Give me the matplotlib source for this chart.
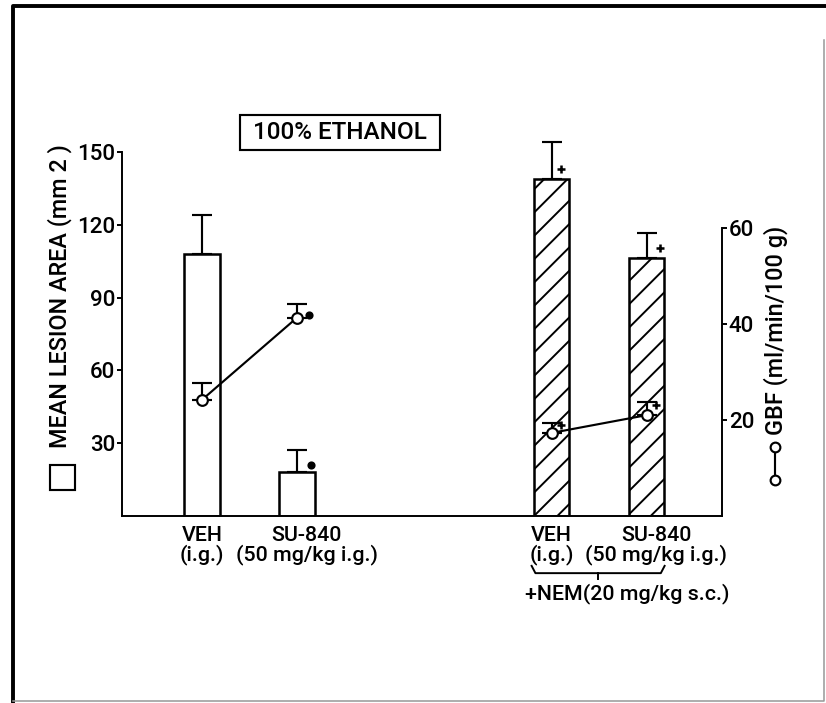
import matplotlib
matplotlib.use("Agg")
import matplotlib.pyplot as plt
import numpy as np
from matplotlib.lines import Line2D
from matplotlib.patches import Rectangle
from matplotlib.transforms import offset_copy, ScaledTranslation

plt.rcParams['font.family'] = ['Roboto', 'DejaVu Sans']
plt.rcParams['font.weight'] = 'medium'
plt.rcParams['hatch.linewidth'] = 1.0

# data
labels = ["VEH\n(i.g.)", "SU-840\n(50 mg/kg i.g.)", "VEH\n(i.g.)", "SU-840\n(50 mg/kg i.g.)"]
lesion = [108, 18, 139, 106.5]
lesion_sem = [16, 9, 15, 10]
gbf = [24.2, 41.3, 17.3, 21.0]
gbf_sem = [3.5, 2.9, 2.1, 2.7]
lesion_sig = ['', '*', '+', '+']
gbf_sig = ['', '*', '+', '+']
hatches = ['', '', '//', '//']

pos = np.array([0, 1, 3.68, 4.68])
W, H = 826, 703
DPI = 140

fig = plt.figure(figsize=(W / DPI, H / DPI), dpi=DPI)
ax = fig.add_axes([122 / W, 1 - 516 / H, 600 / W, 364 / H])
ax2 = ax.twinx()

bars = ax.bar(pos, lesion, width=0.37, color='white', edgecolor='black',
              linewidth=1.3, zorder=2)
for b, h in zip(bars, hatches):
    b.set_hatch(h)
eb = ax.errorbar(pos, lesion, yerr=[np.zeros(4), lesion_sem], fmt='none',
                 ecolor='black', elinewidth=1.1, capsize=5, capthick=1.1, zorder=1)
for art in eb.get_children():
    art.set_clip_on(False)

ax.set_xlim(-0.842, 5.474)
ax.set_ylim(0, 150)
ax.set_yticks([30, 60, 90, 120, 150])
ax.set_xticks(pos)
ax.set_xticklabels(labels, fontsize=11, linespacing=0.95)
ax.tick_params(axis='x', length=0, pad=5)
ax.tick_params(axis='y', direction='out', length=2.5, width=1, pad=1, labelsize=11.5)
# the SU-840 labels sit a little right of their bars
for i, lab in enumerate(ax.get_xticklabels()):
    if i in (1, 3):
        lab.set_transform(lab.get_transform() + ScaledTranslation(5 / 72, 0, fig.dpi_scale_trans))
for s in ['top', 'right']:
    ax.spines[s].set_visible(False)
ax.spines['left'].set_linewidth(1)
ax.spines['bottom'].set_linewidth(1)

# GBF on the right axis, two groups joined separately
ax2.set_ylim(0, 75.8)
for g in [slice(0, 2), slice(2, 4)]:
    ax2.errorbar(pos[g], gbf[g], yerr=[np.zeros(2), gbf_sem[g]], fmt='none',
                 ecolor='black', elinewidth=1.1, capsize=5, capthick=1.1, zorder=3)
    ax2.plot(pos[g], gbf[g], '-o', color='black', mfc='white', ms=5.5,
             mew=1.1, lw=1.1, zorder=4)
ax2.set_yticks([20, 40, 60])
ax2.tick_params(axis='y', direction='out', length=2.5, width=1, pad=1, labelsize=11.5)
for s in ['top', 'left', 'bottom']:
    ax2.spines[s].set_visible(False)
ax2.spines['right'].set_linewidth(1)
ax2.spines['right'].set_bounds(0, 60)

# significance marks
bar_off = [(0, 0), (7.2, 3.6), (5.1, 5.1), (6.7, 5.1)]
gbf_off = [(0, 0), (6.2, 1.5), (5.1, 4.1), (5.1, 5.1)]
for i in range(4):
    for axis, vals, sig, off in [(ax, lesion, lesion_sig, bar_off), (ax2, gbf, gbf_sig, gbf_off)]:
        if not sig[i]:
            continue
        tr = offset_copy(axis.transData, fig=fig, x=off[i][0], y=off[i][1], units='points')
        if sig[i] == '*':
            axis.plot(pos[i], vals[i], marker='o', ms=3.2, color='black', transform=tr,
                      clip_on=False, zorder=5)
        else:
            axis.plot(pos[i], vals[i], marker='+', ms=4.5, mew=1.3, color='black',
                      transform=tr, clip_on=False, zorder=5)

# bracket under the NEM group
xt = ax.get_xaxis_transform()
bx0, bx1 = pos[2] - 0.21, pos[3] + 0.19
ax.plot([bx0, bx0 + 0.04, bx1 - 0.04, bx1], [-0.137, -0.157, -0.157, -0.137],
        color='black', lw=1, transform=xt, clip_on=False)
ax.plot([(bx0 + bx1) / 2] * 2, [-0.157, -0.172], color='black', lw=1,
        transform=xt, clip_on=False)
ax.text((pos[2] + pos[3]) / 2 + 0.3, -0.212, "+NEM(20 mg/kg s.c.)", transform=xt,
        ha='center', va='center', fontsize=11)

# axis titles with their symbols
fig.text(60 / W, 1 - 448 / H, "MEAN LESION AREA (mm 2 )", rotation=90,
         ha='center', va='bottom', fontsize=12)
fig.add_artist(Rectangle((50 / W, 1 - 490 / H), 25 / W, 25 / H, transform=fig.transFigure,
                         fill=False, edgecolor='black', lw=1.1))
fig.text(776 / W, 1 - 435 / H, "GBF (ml/min/100 g)", rotation=90,
         ha='center', va='bottom', fontsize=12)
fig.add_artist(Line2D([775 / W, 775 / W], [1 - 447 / H, 1 - 480 / H], transform=fig.transFigure,
                      color='black', lw=1.1, marker='o', ms=5, mfc='white', mew=1.1))

# title box
fig.add_artist(Rectangle((240 / W, 1 - 150 / H), 200 / W, 35 / H, transform=fig.transFigure,
                         fill=False, edgecolor='black', lw=1.1))
fig.text(340 / W, 1 - 132.5 / H, "100% ETHANOL", ha='center', va='center', fontsize=12.5)

# outer frame
fig.add_artist(Line2D([13 / W, 13 / W, 1], [0, 1 - 6 / H, 1 - 6 / H], transform=fig.transFigure,
                      color='black', lw=2))
fig.add_artist(Line2D([13 / W, 824 / W, 824 / W], [1 - 701 / H, 1 - 701 / H, 1 - 40 / H],
                      transform=fig.transFigure, color='#999999', lw=0.8))

fig.savefig("out.png", dpi=DPI)
